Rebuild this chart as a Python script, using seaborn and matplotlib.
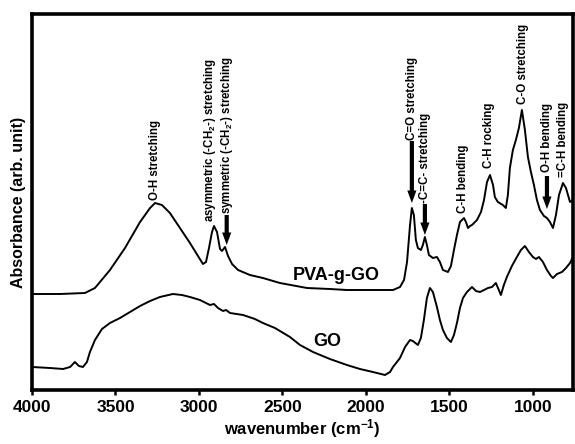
import matplotlib
matplotlib.use("Agg")
import matplotlib.pyplot as plt
import seaborn as sns
import numpy as np

# ---- data (wavenumber in cm-1, absorbance in arbitrary units) ----
pva_wn = [4000, 3832, 3683, 3623, 3533, 3443, 3353, 3293, 3263, 3222, 3174, 3114,
          3054, 3006, 2976, 2958, 2940, 2922, 2910, 2892, 2874, 2862, 2844, 2826,
          2802, 2766, 2695, 2617, 2515, 2353, 2216, 2114, 1976, 1838, 1796, 1772,
          1754, 1736, 1725, 1713, 1701, 1689, 1671, 1659, 1647, 1635, 1623, 1599,
          1575, 1557, 1539, 1509, 1491, 1473, 1455, 1437, 1413, 1401, 1389, 1377,
          1365, 1335, 1311, 1293, 1275, 1257, 1239, 1228, 1210, 1180, 1162, 1150,
          1138, 1120, 1102, 1084, 1066, 1048, 1030, 1012, 994, 976, 958, 934, 916,
          898, 880, 862, 844, 820, 802, 778, 760]
pva_abs = [96, 96, 97, 102, 120, 142, 168, 182, 187, 185, 177, 162,
           147, 134, 126, 128, 142, 158, 164, 158, 141, 139, 143, 134,
           126, 120, 115, 112, 107, 102, 101, 100, 100, 100, 103, 110,
           128, 165, 182, 175, 150, 142, 140, 145, 153, 145, 135, 132,
           133, 128, 120, 118, 124, 140, 155, 168, 172, 168, 162, 164,
           165, 170, 178, 190, 208, 215, 205, 193, 188, 185, 182, 195,
           222, 240, 250, 262, 280, 260, 233, 218, 205, 190, 180, 174, 172,
           168, 162, 175, 195, 207, 202, 188, 190]

go_wn = [4000, 3892, 3814, 3772, 3743, 3719, 3695, 3671, 3653, 3623, 3581, 3533,
         3473, 3413, 3353, 3293, 3234, 3156, 3102, 3054, 2994, 2934, 2910, 2886,
         2856, 2838, 2814, 2736, 2665, 2617, 2545, 2455, 2395, 2317, 2216, 2114,
         2036, 1958, 1886, 1856, 1838, 1796, 1766, 1736, 1719, 1689, 1671, 1653,
         1635, 1617, 1599, 1575, 1557, 1539, 1515, 1491, 1473, 1455, 1437, 1419,
         1395, 1365, 1341, 1317, 1293, 1269, 1245, 1222, 1204, 1192, 1174, 1156,
         1126, 1096, 1072, 1048, 1024, 1000, 982, 964, 940, 916, 892, 880, 856,
         826, 802, 778, 760]
go_abs = [23, 22, 21, 23, 28, 24, 23, 28, 38, 50, 61, 67,
          72, 78, 84, 89, 93, 96, 95, 93, 90, 85, 86, 82,
          79, 80, 77, 75, 71, 67, 62, 53, 45, 38, 31, 25,
          21, 18, 15, 18, 23, 32, 43, 50, 49, 45, 52, 70,
          92, 102, 98, 83, 70, 60, 52, 48, 55, 67, 82, 92,
          98, 103, 99, 98, 100, 102, 103, 107, 100, 95, 105, 113,
          124, 133, 140, 144, 138, 133, 131, 133, 128, 120, 114, 112, 116,
          118, 122, 127, 133]

x_ticks = [4000, 3500, 3000, 2500, 2000, 1500, 1000]

sample_labels = ["PVA-g-GO", "GO"]

# band annotations: (text, wavenumber, text bottom, arrow start, arrow end)
bands = [
    ("O-H stretching", 3264, 190, None, None),
    ("asymmetric (-CH$_2$-) stretching", 2934, 168, None, None),
    ("symmetric (-CH$_2$-) stretching", 2834, 176, 175, 145),
    ("C=O stretching", 1725, 250, 249, 187),
    ("-C=C- stretching", 1647, 187, 186, 155),
    ("C-H bending", 1419, 177, None, None),
    ("C-H rocking", 1263, 222, None, None),
    ("C-O stretching", 1060, 286, None, None),
    ("O-H bending", 916, 218, 214, 181),
    ("=C-H bending", 820, 213, None, None),
]

# ---- style ----
sns.set_style("ticks")
plt.rcParams["font.family"] = ["Liberation Sans", "DejaVu Sans"]
plt.rcParams["font.weight"] = "bold"
plt.rcParams["text.color"] = "black"
plt.rcParams["axes.labelcolor"] = "black"
plt.rcParams["xtick.color"] = "black"
plt.rcParams["ytick.color"] = "black"
plt.rcParams["mathtext.fontset"] = "custom"
plt.rcParams["mathtext.rm"] = "Liberation Sans:bold"
plt.rcParams["mathtext.it"] = "Liberation Sans:bold"
plt.rcParams["mathtext.bf"] = "Liberation Sans:bold"

fig = plt.figure(figsize=(5.75, 4.44), dpi=100)
ax = fig.add_axes([32 / 575, 54 / 444, 541 / 575, 376 / 444])

sns.lineplot(x=pva_wn, y=pva_abs, ax=ax, color="black", lw=1.4, estimator=None)
sns.lineplot(x=go_wn, y=go_abs, ax=ax, color="black", lw=1.4, estimator=None)

ax.set_xlim(4000, 760)
ax.set_ylim(0, 376)
ax.set_xticks(x_ticks)
ax.set_xticklabels([str(t) for t in x_ticks], fontsize=12.5, fontweight="bold", color="black")
ax.set_yticks([])
ax.tick_params(axis="x", direction="out", length=3.5, width=1.8, pad=4, colors="black")
for s in ax.spines.values():
    s.set_visible(True)
    s.set_linewidth(2.6)
    s.set_color("black")

ax.set_xlabel("wavenumber (cm$^{-1}$)", fontsize=12, fontweight="bold", labelpad=1, color="black")
ax.set_ylabel("Absorbance (arb. unit)", fontsize=11.5, fontweight="bold", labelpad=4, color="black")

# sample labels
ax.text(2437, 115, sample_labels[0], fontsize=13, fontweight="bold", ha="left", va="center", color="black")
ax.text(2317, 49, sample_labels[1], fontsize=13, fontweight="bold", ha="left", va="center", color="black")

for txt, wn, yb, a0, a1 in bands:
    ax.text(wn, yb, txt, rotation=90, ha="center", va="bottom",
            fontsize=8.3, fontweight="bold", color="black")
    if a0 is not None:
        ax.annotate("", xy=(wn, a1), xytext=(wn, a0),
                    arrowprops=dict(arrowstyle="simple,head_length=0.75,head_width=0.55,tail_width=0.25",
                                    color="black", lw=0, shrinkA=0, shrinkB=0),
                    fontsize=12)

fig.savefig("out.png", dpi=100)
